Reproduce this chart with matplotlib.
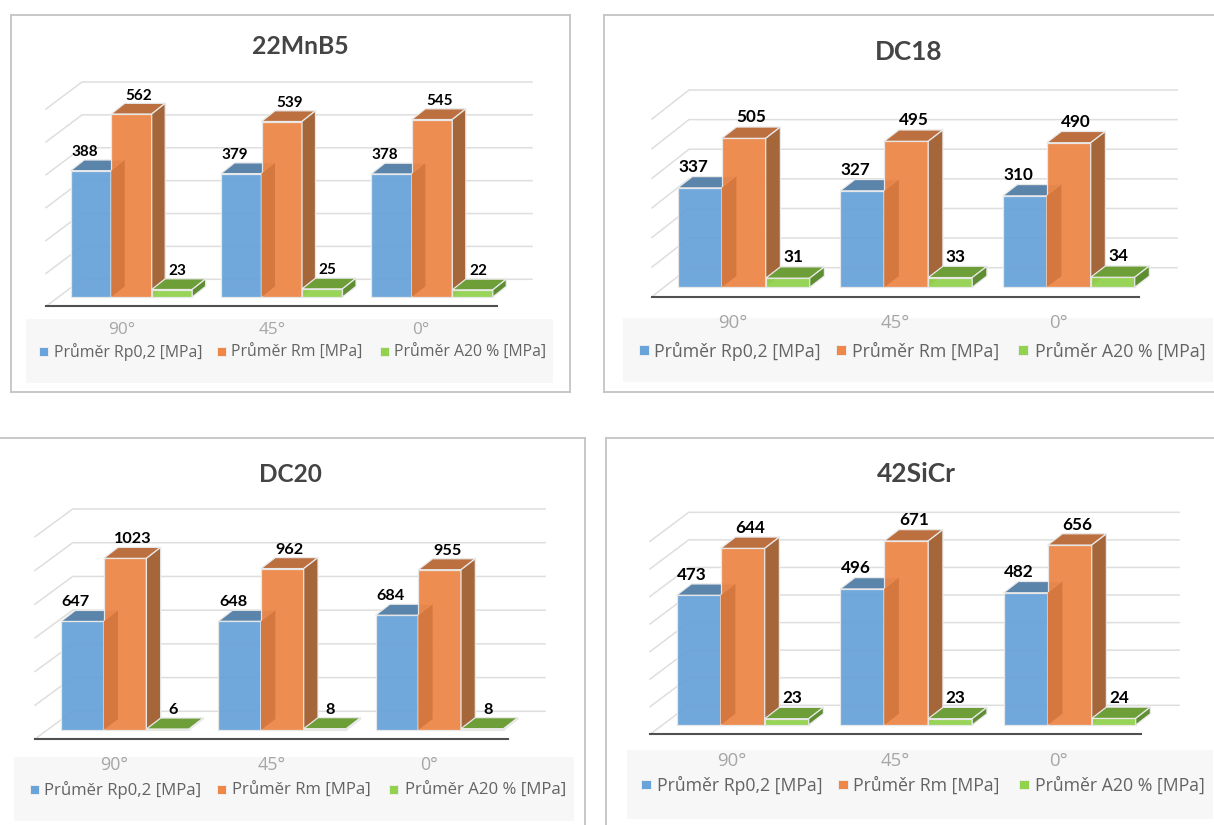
import matplotlib
matplotlib.use('Agg')
import matplotlib.pyplot as plt
from matplotlib.patches import Rectangle
from matplotlib.transforms import Affine2D

W, H = 1214, 825

categories = ['90°', '45°', '0°']
legend_names = ['Průměr Rp0,2 [MPa]', 'Průměr Rm [MPa]', 'Průměr A20 % [MPa]']

titles = ['22MnB5', 'DC18', 'DC20', '42SiCr']
rp02 = [[388, 379, 378], [337, 327, 310], [647, 648, 684], [473, 496, 482]]
rm = [[562, 539, 545], [505, 495, 490], [1023, 962, 955], [644, 671, 656]]
a20 = [[23, 25, 22], [31, 33, 34], [6, 8, 8], [23, 23, 24]]

# colours: front, top, side
blue = ['#69a3d9', '#5b84ab', '#4f7396']
orange = ['#ee8748', '#bc7040', '#a5663a']
green = ['#92d24e', '#6e9e38', '#5f8d32']
overlap = '#d5783f'
edge = '#e9e9e9'

# layout of each chart, in pixels of the picture
# fs = title, data label, category, legend
panels = [
    dict(frame=(11, 15, 570, 392), base=297, x0=70.7, bw=40.5, step=150.3, scale=.3256,
         dx=13.5, dy=10.7, back=(82, 532, 82, 279.3), ngrid=7, front=(46, 27), axis=(497, 305.7),
         cat=(121.7, 272, 421, 329), bg=(26, 553, 319, 383), leg_y=351,
         swatch=(39, 217, 380), text=(54, 231, 394), sw=9, fs=(17.8, 11, 12.4, 11.4),
         up=18.5, title=(300, 47)),
    dict(frame=(604, 15, 1240, 392), base=287.3, x0=677.7, bw=44, step=162.5, scale=.295,
         dx=14.7, dy=11.3, back=(689, 1177, 90, 267.7), ngrid=7, front=(652, 29), axis=(1139, 296.7),
         cat=(733, 895, 1058, 322), bg=(623, 1213, 318, 382), leg_y=350,
         swatch=(639, 836, 1018), text=(654, 852, 1035), sw=9.5, fs=(18.8, 12.3, 13.4, 12.8),
         up=21, title=(909, 52)),
    dict(frame=(-20, 438, 585, 850), base=730, x0=61, bw=42.7, step=157.3, scale=.1678,
         dx=14.3, dy=11, back=(72.7, 545, 509, 711.3), ngrid=7, front=(35, 27.7), axis=(508, 739.3),
         cat=(114.5, 271.7, 428.7, 764), bg=(14, 574, 756.7, 820.7), leg_y=789,
         swatch=(29.5, 216.7, 389), text=(44, 232, 405), sw=9, fs=(17.6, 11.7, 12.9, 12.1),
         up=19, title=(290, 474)),
    dict(frame=(606, 438, 1240, 850), base=725, x0=676.7, bw=44, step=163.5, scale=.2743,
         dx=14.7, dy=11.3, back=(688.7, 1179, 512.3, 705.3), ngrid=8, front=(650, 29), axis=(1141, 734),
         cat=(732, 895, 1058, 760), bg=(627, 1213, 750, 819), leg_y=784.3,
         swatch=(641, 838, 1019), text=(657, 853, 1035), sw=9.5, fs=(19, 12.3, 13.4, 12.7),
         up=20.5, title=(916, 474)),
]

fig = plt.figure(figsize=(W / 100, H / 100), dpi=100)
px = Affine2D().scale(1, -1).translate(0, H)
legend_colors = [blue[0], orange[0], green[0]]
label_shift = [-6.5, 7.5, 5.5]


def draw_bar(ax, x, h, colors, ddx, ddy):
    # front face lets the wall lines show through a little
    ax.bar(x, h, width=1, align='edge', color=colors[0], alpha=.95, edgecolor=edge, linewidth=.9, zorder=3)
    ax.fill([x, x + ddx, x + 1 + ddx, x + 1], [h, h + ddy, h + ddy, h],
            facecolor=colors[1], edgecolor=edge, linewidth=.9, zorder=3)
    ax.fill([x + 1, x + 1 + ddx, x + 1 + ddx, x + 1], [0, ddy, h + ddy, h],
            facecolor=colors[2], edgecolor=edge, linewidth=.9, zorder=3)


for i, p in enumerate(panels):
    l, t, r, b = p['frame']
    ax = fig.add_axes([l / W, 1 - b / H, (r - l) / W, (b - t) / H])
    ax.set_xlim((l - p['x0']) / p['bw'], (r - p['x0']) / p['bw'])
    ax.set_ylim((p['base'] - b) / p['scale'], (p['base'] - t) / p['scale'])
    ax.set_xticks([])
    ax.set_yticks([])
    for s in ax.spines.values():
        s.set_color('#c4c4c4')
        s.set_linewidth(1.3)

    # back wall and side wall
    bl, br, bt, bb = p['back']
    fl, fd = p['front']
    for k in range(p['ngrid']):
        y = bt + (bb - bt) * k / (p['ngrid'] - 1)
        ax.plot([fl, bl, br], [y + fd, y, y], color='#dedede', lw=1.1, transform=px, zorder=1)
    ax.plot([fl, p['axis'][0]], [p['axis'][1], p['axis'][1]], color='#505050', lw=1.5, transform=px, zorder=2)

    ddx = p['dx'] / p['bw']
    ddy = p['dy'] / p['scale']
    gap = p['step'] / p['bw']
    for g in range(len(categories)):
        x = g * gap
        draw_bar(ax, x, rp02[i][g], blue, ddx, ddy)
        draw_bar(ax, x + 1, rm[i][g], orange, ddx, ddy)
        h = rp02[i][g]
        ax.fill([x + 1, x + 1 + ddx, x + 1 + ddx, x + 1], [0, ddy, h + ddy, h], color=overlap, lw=0, zorder=3)
        draw_bar(ax, x + 2, a20[i][g], green, ddx, ddy)
        for s, val in enumerate([rp02[i][g], rm[i][g], a20[i][g]]):
            ax.text(x + s + .5 + label_shift[s] / p['bw'], val + p['up'] / p['scale'], str(val),
                    ha='center', va='center', family='Lato', weight='bold', fontsize=p['fs'][1],
                    color='black', zorder=5)

    # legend band, category names, title
    x1, x2, y1, y2 = p['bg']
    ax.add_patch(Rectangle((x1, y1), x2 - x1, y2 - y1, transform=px, facecolor='#f7f7f7', edgecolor='none', zorder=1))
    for g, cat in enumerate(categories):
        ax.text(p['cat'][g], p['cat'][3] + 1.5, cat, transform=px, ha='center', va='center', family='Open Sans',
                fontsize=p['fs'][2], color='#a6a6a6', zorder=5)
    for s, name in enumerate(legend_names):
        ax.add_patch(Rectangle((p['swatch'][s], p['leg_y'] - p['sw'] / 2), p['sw'], p['sw'], transform=px,
                               facecolor=legend_colors[s], edgecolor='#eeeeee', lw=.7, zorder=5))
        ax.text(p['text'][s], p['leg_y'] + 1.5, name, transform=px, ha='left', va='center', family='Open Sans',
                fontsize=p['fs'][3], color='#636363', zorder=5)
    ax.text(p['title'][0], p['title'][1], titles[i], transform=px, ha='center', va='center', family='Lato',
            weight='bold', fontsize=p['fs'][0], color='#444444', zorder=5)

fig.savefig('out.png', dpi=100)
